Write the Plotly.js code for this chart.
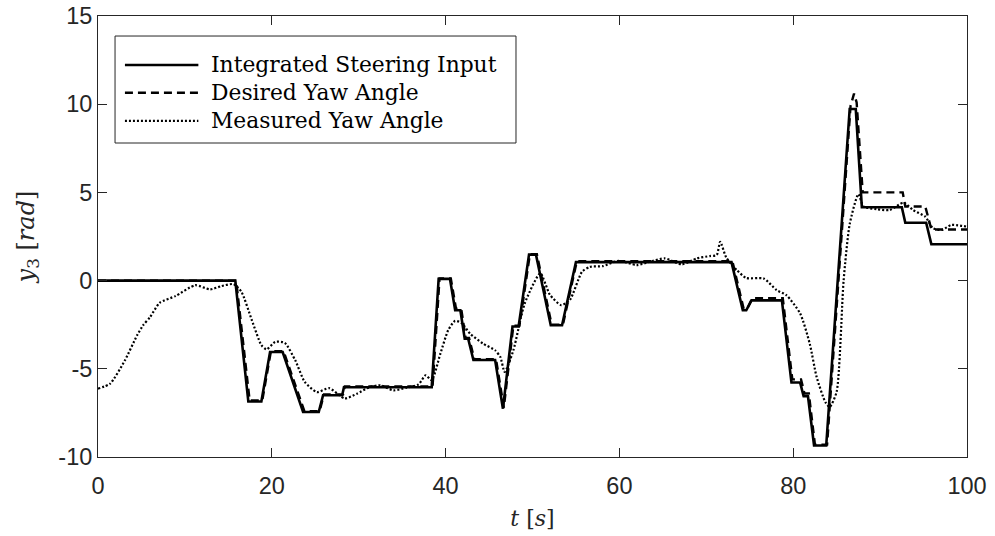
<!DOCTYPE html>
<html>
<head>
<meta charset="utf-8">
<script src="https://cdn.plot.ly/plotly-3.0.1.min.js"></script>
<style>html,body{margin:0;padding:0;background:#fff;}#chart{width:995px;height:536px;}</style>
</head>
<body>
<div id="chart"></div>
<script>
// Integrated Steering Input (solid)
var tIntegrated = [0, 15.8, 17.3, 18.8, 19.8, 21.25, 23.6, 25.4, 25.9, 28.1, 28.3, 38.4, 39.2, 40.5, 41.1, 41.7, 42.2, 42.6, 43.2, 45.7, 46.6, 47.7, 48.4, 49.6, 50.4, 52.1, 53.4, 55.0, 72.9, 74.2, 74.6, 75.2, 78.7, 79.8, 80.8, 81.2, 81.7, 82.4, 83.8, 86.5, 87.2, 87.9, 92.5, 92.9, 95.3, 95.9, 100];
var yIntegrated = [0, 0, -6.85, -6.85, -4.05, -4.05, -7.45, -7.45, -6.5, -6.5, -6.05, -6.05, 0.1, 0.1, -1.68, -1.68, -3.3, -3.3, -4.5, -4.5, -7.26, -2.6, -2.6, 1.47, 1.47, -2.53, -2.53, 1.05, 1.05, -1.68, -1.68, -1.12, -1.12, -5.78, -5.78, -6.56, -6.56, -9.35, -9.35, 9.73, 9.73, 4.16, 4.16, 3.28, 3.28, 2.06, 2.06];

// Desired Yaw Angle (dashed)
var tDesired = [0, 15.9, 17.45, 18.9, 19.9, 21.35, 23.75, 25.5, 26.0, 28.2, 28.4, 38.5, 39.3, 40.6, 41.2, 41.8, 42.3, 42.7, 43.3, 45.8, 46.7, 47.8, 48.5, 49.7, 50.5, 52.2, 53.5, 55.1, 73.0, 74.3, 74.7, 75.3, 78.8, 79.9, 80.9, 81.3, 81.8, 82.5, 83.9, 86.6, 87.0, 87.3, 88.0, 92.6, 92.9, 95.2, 95.9, 100];
var yDesired = [0, 0, -6.8, -6.8, -4.0, -4.0, -7.4, -7.4, -6.45, -6.45, -6.0, -6.0, 0.12, 0.12, -1.6, -1.6, -3.25, -3.25, -4.45, -4.45, -7.2, -2.55, -2.55, 1.5, 1.5, -2.5, -2.5, 1.1, 1.1, -1.6, -1.6, -1.0, -1.0, -5.6, -5.6, -6.4, -6.4, -9.3, -9.3, 9.9, 10.6, 10.1, 5.0, 5.0, 4.2, 4.2, 2.9, 2.9];

// Measured Yaw Angle (dotted)
var tMeasured = [0, 1.4, 3.1, 4.5, 5.2, 6.0, 7.1, 8.9, 11.2, 12.9, 14.2, 15.6, 16.5, 17.7, 18.8, 19.4, 20.4, 21.5, 22.7, 23.8, 25.2, 26.6, 28.4, 29.8, 31.3, 32.5, 34.0, 35.5, 36.9, 37.7, 38.4, 39.4, 40.3, 41.1, 41.9, 42.8, 44.3, 45.7, 46.3, 46.8, 47.8, 49.1, 50.9, 52.0, 53.3, 54.3, 55.7, 56.6, 58.1, 59.9, 62.0, 63.5, 65.2, 67.2, 68.9, 70.4, 71.2, 71.6, 72.3, 73.5, 74.6, 76.6, 78.1, 79.2, 80.8, 81.9, 82.7, 83.7, 84.2, 85.0, 85.8, 86.5, 87.5, 88.1, 89.6, 91.1, 92.7, 93.8, 95.2, 96.1, 97.1, 98.2, 100];
var yMeasured = [-6.13, -5.84, -4.52, -3.1, -2.53, -2.06, -1.26, -0.88, -0.26, -0.5, -0.31, -0.2, -0.63, -2.24, -3.66, -3.9, -3.47, -3.53, -4.52, -5.75, -6.32, -6.1, -6.68, -6.41, -6.03, -5.94, -6.22, -6.07, -5.88, -5.37, -5.65, -4.14, -2.81, -2.28, -2.43, -3.0, -3.57, -3.95, -4.33, -5.18, -3.95, -1.3, 0.41, -0.8, -1.39, -1.1, 0.5, 0.78, 0.82, 1.12, 0.88, 1.07, 1.26, 0.92, 1.26, 1.39, 1.45, 2.2, 1.3, 0.6, 0.15, 0.12, -0.54, -0.82, -1.86, -3.57, -5.47, -6.89, -7.17, -6.3, 0.0, 3.2, 4.9, 4.2, 4.05, 4.0, 4.42, 4.0, 3.62, 2.96, 2.87, 3.15, 3.06];

var seriesNames = ["Integrated Steering Input", "Desired Yaw Angle", "Measured Yaw Angle"];
var xTicks = [0, 20, 40, 60, 80, 100];
var yTicks = [-10, -5, 0, 5, 10, 15];

var styles = [
  {color: "#000000", width: 2.6, dash: "solid"},
  {color: "#000000", width: 2.4, dash: "8px,5px"},
  {color: "#000000", width: 2.2, dash: "2px,2px"}
];

var traces = [
  {x: tIntegrated, y: yIntegrated, name: seriesNames[0]},
  {x: tDesired, y: yDesired, name: seriesNames[1]},
  {x: tMeasured, y: yMeasured, name: seriesNames[2], line: {shape: "spline", smoothing: 0.6}}
].map(function (tr, i) {
  tr.type = "scatter";
  tr.mode = "lines";
  tr.line = Object.assign({}, styles[i], tr.line || {});
  tr.showlegend = false;
  tr.hoverinfo = "skip";
  return tr;
});

// Custom legend (box + samples + labels) in paper coordinates
var legX0 = 0.0196, legX1 = 0.481, legY0 = 0.712, legY1 = 0.9546;
var rowY = [0.889, 0.826, 0.762];
var shapes = [{
  type: "rect", xref: "paper", yref: "paper",
  x0: legX0, x1: legX1, y0: legY0, y1: legY1,
  line: {color: "#262626", width: 1}, fillcolor: "#ffffff", layer: "above"
}];
var annotations = [];
seriesNames.forEach(function (nm, i) {
  shapes.push({
    type: "line", xref: "paper", yref: "paper",
    x0: 0.031, x1: 0.1155, y0: rowY[i], y1: rowY[i],
    line: {color: styles[i].color, width: styles[i].width, dash: styles[i].dash}, layer: "above"
  });
  annotations.push({
    xref: "paper", yref: "paper", x: 0.128, y: rowY[i],
    xanchor: "left", yanchor: "middle", showarrow: false, text: nm,
    font: {family: "DejaVu Serif", size: 21.8, color: "#000000"}
  });
});

var axisCommon = {
  showgrid: false, zeroline: false, showline: true, mirror: "ticks",
  linecolor: "#262626", linewidth: 1, ticks: "inside", ticklen: 9,
  tickcolor: "#262626", tickwidth: 1,
  tickfont: {family: "Liberation Sans, Arial, sans-serif", size: 23.5, color: "#262626"}
};

var layout = {
  width: 995, height: 536,
  margin: {l: 98, r: 28, t: 16, b: 79},
  paper_bgcolor: "#ffffff", plot_bgcolor: "#ffffff",
  xaxis: Object.assign({}, axisCommon, {
    range: [0, 100], tickvals: xTicks, ticktext: xTicks.map(String),
    ticklabelstandoff: 8,
    title: {text: "<i>t</i> [<i>s</i>]", font: {family: "DejaVu Serif", size: 22, color: "#262626"}, standoff: 12}
  }),
  yaxis: Object.assign({}, axisCommon, {
    range: [-10, 15], tickvals: yTicks, ticktext: yTicks.map(String),
    title: {text: "<i>y</i><sub>3</sub> [<i>rad</i>]", font: {family: "DejaVu Serif", size: 24, color: "#262626"}, standoff: 16}
  }),
  shapes: shapes,
  annotations: annotations,
  showlegend: false
};

Plotly.newPlot("chart", traces, layout, {staticPlot: true, displayModeBar: false});
</script>
</body>
</html>
